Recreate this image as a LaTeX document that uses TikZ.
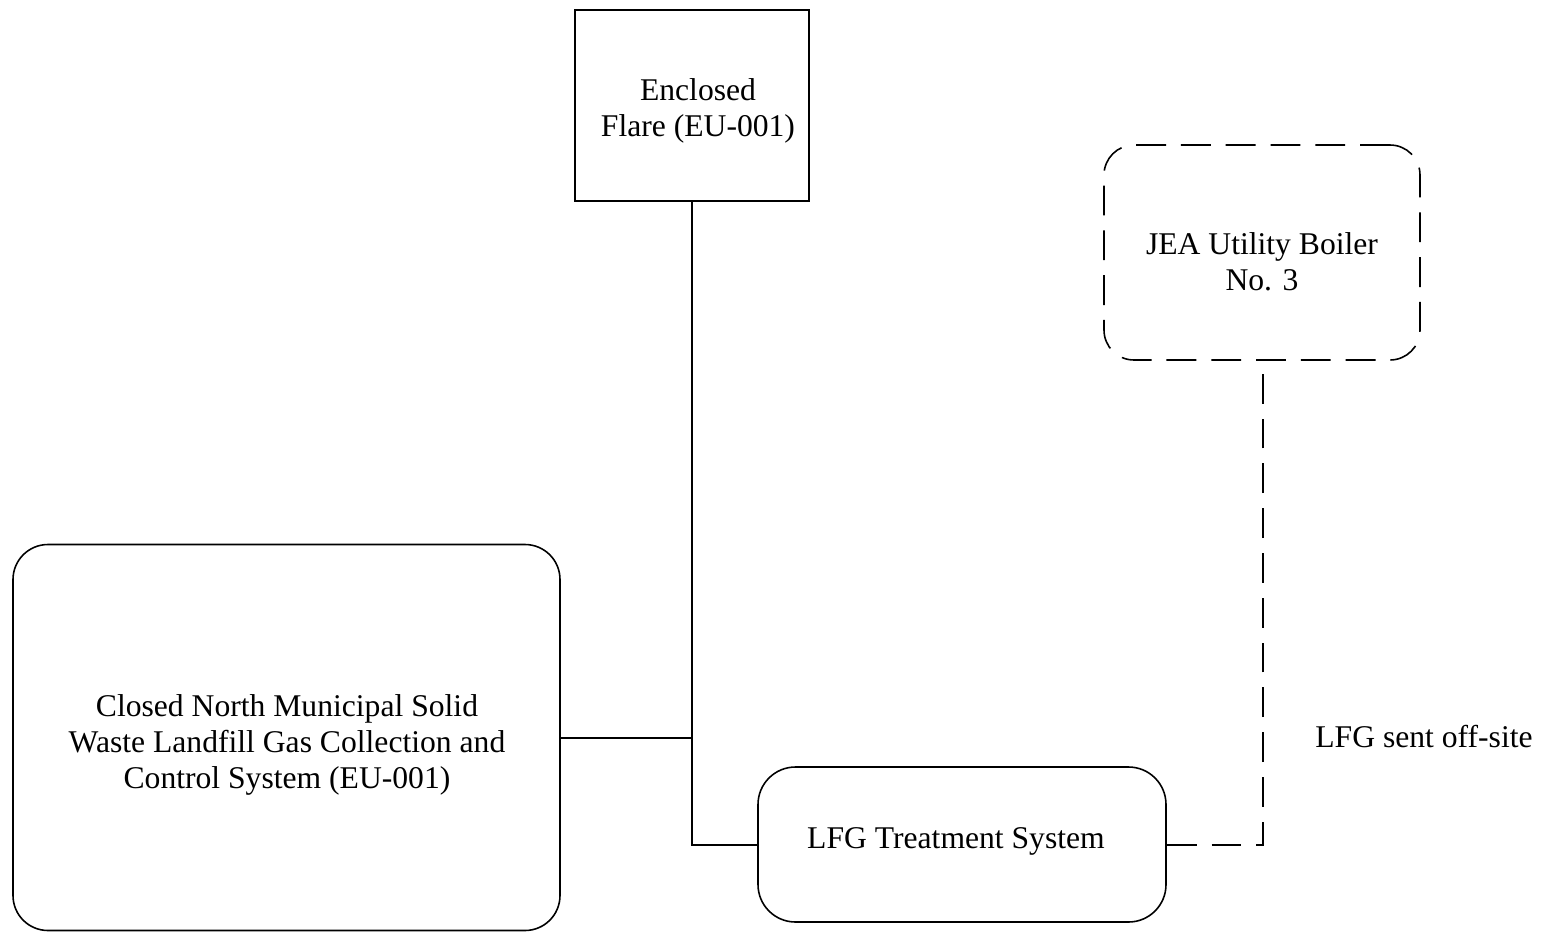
\documentclass[tikz,border=0pt]{standalone}
\usepackage{fontspec}
\setmainfont{Liberation Serif}
\begin{document}
\begin{tikzpicture}[x=0.02cm,y=-0.02cm,
  box/.style={draw,line width=0.9pt,inner sep=0pt},
  txt/.style={align=center,inner sep=0pt,font=\fontsize{18}{20.5}\selectfont},
  conn/.style={line width=0.9pt},
  dconn/.style={line width=0.9pt,dash pattern=on 17pt off 8.5pt}]
\useasboundingbox (0,0) rectangle (1549,934);
\node[box,minimum width=234*0.02cm,minimum height=191*0.02cm] (flare) at (692,105.5) {};
\node[txt] (flaret) at (698,111) {Enclosed\\Flare (EU-001)};
\node[box,dash pattern=on 17pt off 8.5pt,rounded corners=0.6cm,minimum width=316*0.02cm,minimum height=215*0.02cm] (jea) at (1262,252.5) {};
\node[txt] (jeat) at (1262,262) {JEA Utility Boiler\\No. 3};
\node[box,rounded corners=0.7cm,minimum width=547*0.02cm,minimum height=386*0.02cm] (lf) at (286.5,737.5) {};
\node[txt] (lft) at (287,745) {Closed North Municipal Solid\\Waste Landfill Gas Collection and\\Control System (EU-001)};
\node[box,rounded corners=0.75cm,minimum width=408*0.02cm,minimum height=155*0.02cm] (tr) at (962,844.5) {};
\node[txt] (trt) at (956,841) {LFG Treatment System};
\node[txt] (off) at (1424,737) {LFG sent off-site};
\coordinate (j1) at (692,738);
\coordinate (j2) at (692,845);
\coordinate (j3) at (1263,845);
\draw[conn] (flare.south) -- (j1) -- (j2) -- (tr.west |- j2);
\draw[conn] (lf.east |- j1) -- (j1);
\draw[dconn] (tr.east |- j2) -- (j3) -- (jea.south -| j3);
\end{tikzpicture}
\end{document}
